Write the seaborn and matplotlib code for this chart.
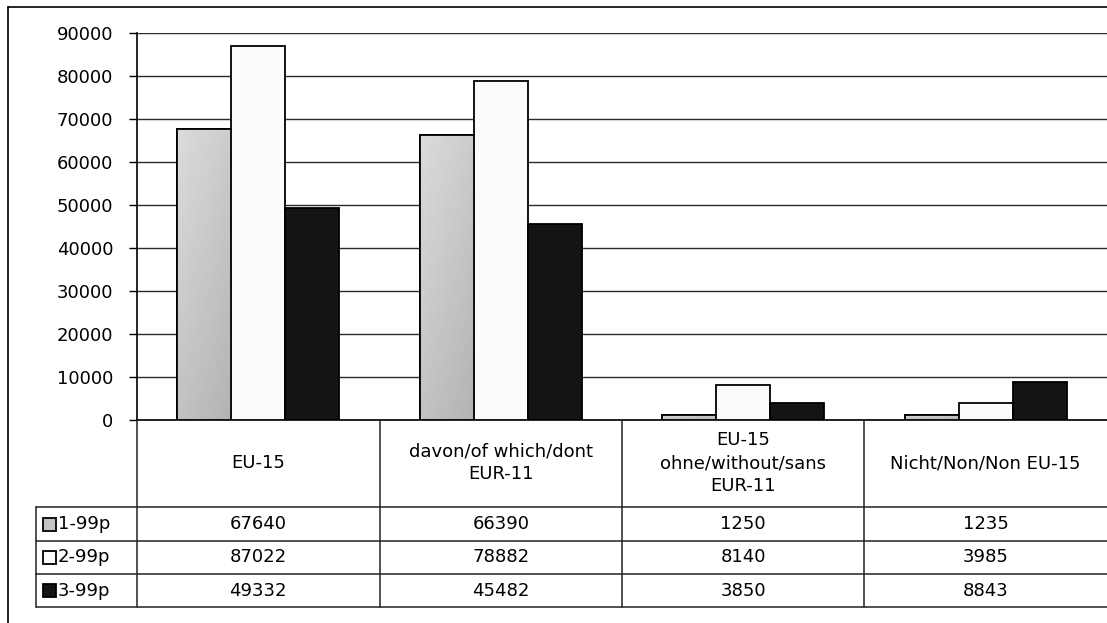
import numpy as np
import pandas as pd
import seaborn as sns
import matplotlib.pyplot as plt
from matplotlib.patches import Rectangle
from matplotlib.lines import Line2D

# data
categories = ["EU-15", "davon/of which/dont\nEUR-11",
              "EU-15\nohne/without/sans\nEUR-11", "Nicht/Non/Non EU-15"]
series = ["1-99p", "2-99p", "3-99p"]
values_1 = [67640, 66390, 1250, 1235]
values_2 = [87022, 78882, 8140, 3985]
values_3 = [49332, 45482, 3850, 8843]
y_ticks = [0, 10000, 20000, 30000, 40000, 50000, 60000, 70000, 80000, 90000]

colors = ["#c4c4c4", "#fbfbfb", "#141414"]

df = pd.DataFrame({
    "cat": categories * 3,
    "series": [s for s in series for _ in categories],
    "val": values_1 + values_2 + values_3,
})

sns.set_theme(style="white")
plt.rcParams['font.family'] = ['DejaVu Sans']
plt.rcParams['text.color'] = 'black'
plt.rcParams['ytick.color'] = 'black'
FS = 13

W, H = 1107, 623
fig = plt.figure(figsize=(W / 100, H / 100), dpi=100, facecolor="white")

# bar area
ax = fig.add_axes([137 / W, 1 - 420 / H, (W - 137) / W, (420 - 33) / H])
sns.barplot(data=df, x="cat", y="val", hue="series", order=categories,
            hue_order=series, palette=colors, width=0.67, saturation=1,
            edgecolor="black", linewidth=1.3, legend=False, ax=ax, zorder=3)
ax.set_xlim(-0.5, 3.5)
ax.set_ylim(0, 90000)
ax.set_yticks(y_ticks)
ax.set_yticklabels([str(t) for t in y_ticks], fontsize=FS, color="black")
ax.set_xticks([])
ax.set_xlabel("")
ax.set_ylabel("")
ax.yaxis.grid(True, color="#2a2a2a", linewidth=1.0)
ax.set_axisbelow(True)
ax.tick_params(axis="y", left=True, length=6, width=1, color="black", pad=11)
for s in ["top", "right"]:
    ax.spines[s].set_visible(False)
for s in ["left", "bottom"]:
    ax.spines[s].set_color("black")
    ax.spines[s].set_linewidth(1.2)
ax.set_facecolor("white")

# soft grey shading on the first series, like the scanned original
grad = np.linspace(0, 1, 64)
shade = 0.86 - 0.16 * (grad[:, None] * 0.6 + grad[None, :] * 0.4)
n = len(categories)
for p in ax.patches[:n]:
    x, y = p.get_x(), p.get_y()
    w, h = p.get_width(), p.get_height()
    im = ax.imshow(shade, cmap="gray", vmin=0, vmax=1, aspect="auto",
                   extent=(x, x + w, y, y + h), origin="upper", zorder=3.5)
    im.set_clip_path(p)
    ax.add_patch(Rectangle((x, y), w, h, fill=False, edgecolor="black",
                           lw=1.3, zorder=3.6))
ax.set_xlim(-0.5, 3.5)
ax.set_ylim(0, 90000)

# data table below the bars
px = (W - 137) / 4.0
x0 = -0.5 - (137 - 36) / px
tab = fig.add_axes([36 / W, 1 - 607 / H, (W - 36) / W, (607 - 420) / H])
tab.set_xlim(x0, 3.5)
tab.set_ylim(607, 420)
tab.axis("off")

lc = "#222222"
row_lines = [507, 541, 574, 607]
for y in row_lines:
    tab.plot([x0, 3.5], [y, y], color=lc, lw=1.1, clip_on=False)
for x in [-0.5, 0.5, 1.5, 2.5]:
    tab.plot([x, x], [420, 607], color=lc, lw=1.1, clip_on=False)
tab.plot([x0, x0], [507, 607], color=lc, lw=1.1, clip_on=False)

for i, c in enumerate(categories):
    tab.text(i, 463, c, ha="center", va="center", fontsize=FS, linespacing=1.35)

rows = [values_1, values_2, values_3]
centers = [524, 557.5, 590.5]
for r, (name, vals, yc) in enumerate(zip(series, rows, centers)):
    tab.add_patch(Rectangle((x0 + 7 / px, yc - 6.5), 13 / px, 13,
                            facecolor=colors[r], edgecolor="black", lw=1.3))
    tab.text(x0 + 22 / px, yc, name, ha="left", va="center", fontsize=FS)
    for i, v in enumerate(vals):
        tab.text(i, yc, str(v), ha="center", va="center", fontsize=FS)

# outer frame of the picture
fig.add_artist(Line2D([8 / W, 8 / W], [0, 1 - 7 / H], color="black", lw=1.2))
fig.add_artist(Line2D([8 / W, 1], [1 - 7 / H, 1 - 7 / H], color="black", lw=1.2))

fig.savefig("out.png", dpi=100, facecolor="white")
